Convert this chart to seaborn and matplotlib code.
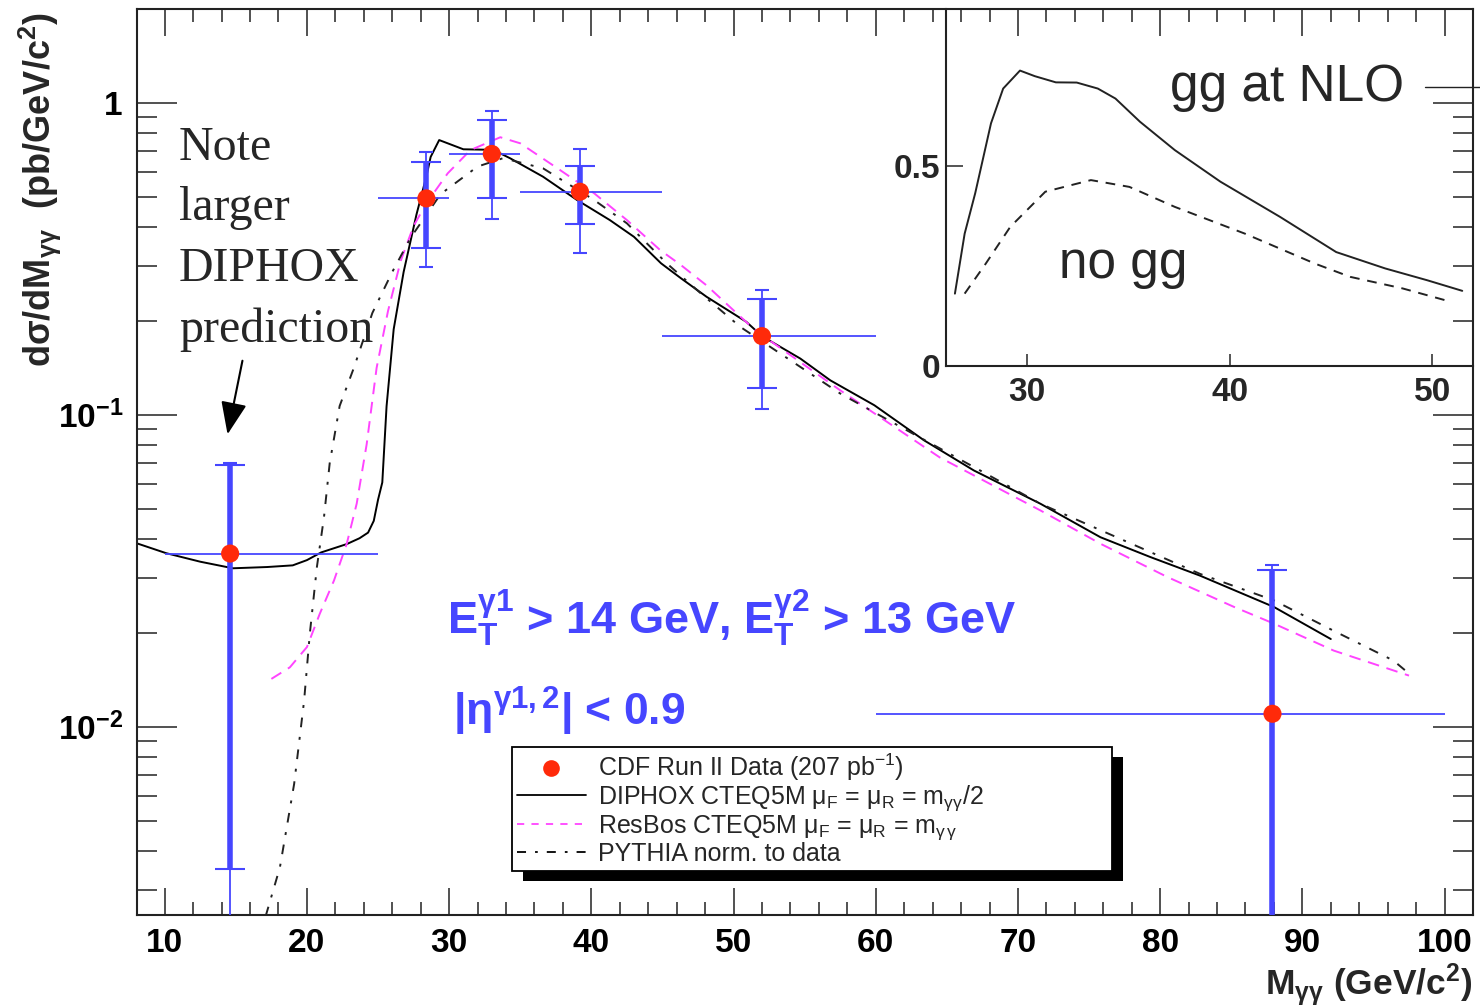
import numpy as np
import pandas as pd
import matplotlib
matplotlib.use("Agg")
import matplotlib.pyplot as plt
import seaborn as sns
from matplotlib.patches import Rectangle
from matplotlib.lines import Line2D
from matplotlib.transforms import IdentityTransform
from matplotlib.ticker import MultipleLocator, LogLocator, NullFormatter, FixedLocator

# ---------------- data ----------------
data_m = [14.6, 28.4, 33.0, 39.2, 52.0, 87.9]
data_val = [0.0359, 0.494, 0.686, 0.519, 0.1787, 0.0110]
bin_lo = [10, 25, 30, 35, 45, 60]
bin_hi = [25, 30, 35, 45, 60, 100]
stat_hi = [0.0689, 0.647, 0.882, 0.629, 0.235, 0.0317]
stat_lo = [0.0035, 0.342, 0.495, 0.409, 0.1216, 0.0010]
tot_hi = [0.0700, 0.696, 0.943, 0.711, 0.251, 0.0331]
tot_lo = [0.0010, 0.298, 0.425, 0.331, 0.104, 0.0010]

diphox_m = [8.05, 10.1, 12.5, 14.8, 17.2, 19.0, 20.0, 21.0, 22.8, 23.7, 24.3, 24.7, 25.0,
            25.3, 25.6, 26.1, 26.8, 27.7, 28.4, 28.7, 29.3, 31.0, 33.1, 34.3, 36.6, 39.0,
            41.3, 43.0, 44.9, 46.3, 48.1, 50.9, 52.0, 54.7, 56.8, 59.9, 63.4, 66.9, 71.6,
            75.8, 79.3, 82.8, 88.0, 92.0]
diphox_v = [0.0387, 0.0360, 0.0338, 0.0322, 0.0325, 0.0329, 0.0342, 0.0362, 0.0385, 0.0402,
            0.0419, 0.0457, 0.0534, 0.0607, 0.1065, 0.188, 0.287, 0.438, 0.581, 0.671, 0.76,
            0.71, 0.707, 0.664, 0.58, 0.488, 0.421, 0.372, 0.306, 0.274, 0.239, 0.1986,
            0.1787, 0.1514, 0.129, 0.1073, 0.0828, 0.0663, 0.0518, 0.0405, 0.035, 0.0305,
            0.0242, 0.0191]

resbos_m = [17.5, 18.8, 20.0, 20.9, 21.9, 22.8, 23.5, 24.2, 24.9, 25.7, 26.6, 27.5, 28.4,
            29.9, 31.5, 33.6, 35.0, 37.8, 40.2, 42.5, 44.85, 46.3, 48.1, 51.5, 57.5, 64.5,
            71.6, 75.8, 80.5, 85.2, 88.0, 92.2, 97.5]
resbos_v = [0.01423, 0.0155, 0.018, 0.023, 0.0294, 0.0386, 0.0519, 0.0804, 0.1414, 0.215,
            0.312, 0.403, 0.4766, 0.5945, 0.706, 0.776, 0.742, 0.609, 0.513, 0.421, 0.337,
            0.302, 0.26, 0.187, 0.1198, 0.073, 0.0493, 0.0386, 0.0302, 0.0242, 0.0214,
            0.01754, 0.01458]

pythia_m = [17.1, 18.1, 19.1, 19.8, 20.2, 20.7, 21.2, 21.6, 22.3, 23.3, 24.6, 26.0, 27.3,
            29.4, 32.0, 33.8, 36.6, 40.2, 42.5, 45.3, 47.7, 50.5, 53.3, 57.5, 62.2, 66.9,
            71.6, 82.8, 88.0, 92.2, 96.4, 97.5]
pythia_v = [0.00247, 0.00354, 0.00655, 0.0121, 0.0198, 0.0325, 0.047, 0.0699, 0.1067,
            0.1414, 0.212, 0.287, 0.37, 0.51, 0.625, 0.665, 0.617, 0.488, 0.411, 0.306,
            0.245, 0.191, 0.157, 0.117, 0.0891, 0.068, 0.0518, 0.0309, 0.0254, 0.0203,
            0.0163, 0.0148]

inset_gg_m = [26.44, 26.92, 27.44, 28.22, 28.82, 29.65, 30.38, 31.42, 32.45, 33.49, 34.36,
              35.57, 37.29, 39.54, 42.48, 45.25, 47.67, 49.74, 51.47]
inset_gg_v = [0.181, 0.331, 0.432, 0.607, 0.694, 0.739, 0.725, 0.7095, 0.709, 0.694, 0.669,
              0.611, 0.540, 0.461, 0.373, 0.285, 0.244, 0.2145, 0.188]
inset_nogg_m = [26.92, 27.96, 29.17, 30.9, 33.15, 35.05, 37.29, 40.75, 44.21, 45.94, 48.53, 50.95]
inset_nogg_v = [0.181, 0.256, 0.348, 0.436, 0.465, 0.448, 0.398, 0.331, 0.256, 0.223, 0.194, 0.160]

x_ticks = [10, 20, 30, 40, 50, 60, 70, 80, 90, 100]
y_ticks = [0.01, 0.1, 1]
y_ticklabels = [r"$\mathbf{10^{-2}}$", r"$\mathbf{10^{-1}}$", r"$\mathbf{1}$"]
inset_x_ticks = [30, 40, 50]
inset_y_ticks = [0, 0.5]
inset_y_ticklabels = ["0", "0.5"]

legend_labels = [r"CDF Run II Data (207 pb$^{-1}$)",
                 r"DIPHOX CTEQ5M $\mu_{F}$ = $\mu_{R}$ = m$_{\gamma\gamma}$/2",
                 r"ResBos CTEQ5M $\mu_{F}$ = $\mu_{R}$ = m$_{\gamma\,\gamma}$",
                 "PYTHIA norm. to data"]

# ---------------- style ----------------
sns.set_style("ticks")
plt.rcParams['font.family'] = ['Liberation Sans', 'DejaVu Sans']
plt.rcParams['mathtext.fontset'] = 'custom'
plt.rcParams['mathtext.rm'] = 'Liberation Sans'
plt.rcParams['mathtext.it'] = 'Liberation Sans:italic'
plt.rcParams['mathtext.bf'] = 'Liberation Sans:bold'
plt.rcParams['mathtext.sf'] = 'Liberation Sans'
plt.rcParams['mathtext.default'] = 'regular'

RED = '#ff2a0a'
BLUE = '#4646ff'
MAGENTA = '#ff44ff'

W, H = 1480, 1008
fig = plt.figure(figsize=(W / 100, H / 100), dpi=100)
ax_l, ax_r, ax_t, ax_b = 137, 1473, 9, 915
ax = fig.add_axes([ax_l / W, 1 - ax_b / H, (ax_r - ax_l) / W, (ax_b - ax_t) / H])
ax.set_facecolor('white')
ax.set_yscale('log')
ax.set_xlim(8.05, 102.0)
ax.set_ylim(0.00249, 2.0)

# theory curves
sns.lineplot(x=diphox_m, y=diphox_v, ax=ax, color='black', lw=1.4, sort=False, estimator=None)
sns.lineplot(x=resbos_m, y=resbos_v, ax=ax, color=MAGENTA, lw=1.4, sort=False, estimator=None)
ax.lines[-1].set_dashes([6, 4])
sns.lineplot(x=pythia_m, y=pythia_v, ax=ax, color='#222222', lw=1.4, sort=False, estimator=None)
ax.lines[-1].set_dashes([5, 5, 1.5, 5])

# data with error bars
m = np.array(data_m); v = np.array(data_val)
ax.errorbar(m, v, xerr=[m - np.array(bin_lo), np.array(bin_hi) - m], fmt='none',
            ecolor=BLUE, elinewidth=1.3, capsize=0, zorder=3)
ax.errorbar(m, v, yerr=[v - np.array(tot_lo), np.array(tot_hi) - v], fmt='none',
            ecolor=BLUE, elinewidth=1.3, capsize=5, capthick=1.5, zorder=3)
ax.errorbar(m, v, yerr=[v - np.array(stat_lo), np.array(stat_hi) - v], fmt='none',
            ecolor=BLUE, elinewidth=4, capsize=10.5, capthick=1.5, zorder=3)
sns.scatterplot(x=data_m, y=data_val, ax=ax, color=RED, s=170, edgecolor='none', zorder=6)

# axes styling
for sp in ax.spines.values():
    sp.set_visible(True)
    sp.set_linewidth(1.5)
    sp.set_color('#222222')
ax.set_xticks(x_ticks)
ax.set_xticklabels([str(t) for t in x_ticks])
ax.xaxis.set_minor_locator(MultipleLocator(2))
ax.yaxis.set_major_locator(FixedLocator(y_ticks))
ax.set_yticklabels(y_ticklabels)
ax.yaxis.set_minor_locator(LogLocator(base=10, subs=np.arange(2, 10)))
ax.yaxis.set_minor_formatter(NullFormatter())
ax.tick_params(axis='x', which='major', direction='in', length=19.5, width=1.1,
               top=True, bottom=True, pad=9, labelsize=24, colors='#222222', labelcolor='black')
ax.tick_params(axis='x', which='minor', direction='in', length=9.5, width=1.1,
               top=True, bottom=True, colors='#222222')
ax.tick_params(axis='y', which='major', direction='in', length=29, width=1.1,
               left=True, right=True, pad=10, labelsize=24, colors='#222222', labelcolor='black')
ax.tick_params(axis='y', which='minor', direction='in', length=14.5, width=1.1,
               left=True, right=True, colors='#222222')
for lab in ax.get_xticklabels():
    lab.set_fontweight('bold')
ax.set_xlabel('')
ax.set_ylabel('')

# axis titles
fig.text(40 / W, 1 - 190 / H, r"d$\sigma$/dM$_{\gamma\gamma}$  (pb/GeV/c$^{2}$)",
         rotation=90, ha='center', va='center', fontsize=26, fontweight='bold')
fig.text(1472 / W, 1 - 995 / H, r"M$_{\gamma\gamma}$ (GeV/c$^{2}$)",
         ha='right', va='baseline', fontsize=25.5, fontweight='bold')

# annotation text and arrow
fig.text(179 / W, 1 - 126 / H, "Note\nlarger\nDIPHOX\nprediction", ha='left', va='top',
         fontsize=34.5, family=['Liberation Serif', 'DejaVu Serif'], linespacing=1.48)
ax.annotate('', xy=(227, H - 437), xycoords='figure pixels',
            xytext=(243, H - 358), textcoords='figure pixels',
            arrowprops=dict(arrowstyle='-|>,head_length=1.0,head_width=0.4',
                            color='black', lw=1.5, mutation_scale=20))

# blue cut texts
fig.text(447 / W, 1 - 634 / H,
         r"E$\mathbf{_{T}^{\gamma 1}}$ > 14 GeV, E$\mathbf{_{T}^{\gamma 2}}$ > 13 GeV",
         ha='left', va='baseline', fontsize=32.5, fontweight='bold', color=BLUE)
fig.text(453 / W, 1 - 726 / H, r"|$\mathbf{\eta^{\gamma 1,2}}$| < 0.9",
         ha='left', va='baseline', fontsize=32, fontweight='bold', color=BLUE)

# legend
handles = [Line2D([], [], marker='o', color=RED, linestyle='none', markersize=12, markeredgewidth=0),
           Line2D([], [], color='black', lw=1.3),
           Line2D([], [], color=MAGENTA, lw=1.3, dashes=[4, 4]),
           Line2D([], [], color='black', lw=1.3, dashes=[5, 5, 1.5, 5])]
leg = ax.legend(handles, legend_labels, loc='upper left',
                bbox_to_anchor=(512 / W, 1 - 868 / H, 600 / W, 121 / H),
                bbox_transform=fig.transFigure, mode='expand', borderaxespad=0,
                fancybox=False, framealpha=1, edgecolor='black', fontsize=18,
                handlelength=2.75, handletextpad=0.5, labelspacing=0.0, borderpad=0.2)
leg.get_frame().set_linewidth(1.3)
leg.set_zorder(10)

# inset
in_l, in_r, in_t, in_b = 946, 1473, 9, 366
axi = fig.add_axes([in_l / W, 1 - in_b / H, (in_r - in_l) / W, (in_b - in_t) / H])
axi.set_facecolor('none')
axi.set_xlim(26.0, 52.0)
axi.set_ylim(0, 0.893)
sns.lineplot(x=inset_gg_m, y=inset_gg_v, ax=axi, color='#222222', lw=1.4, sort=False, estimator=None)
sns.lineplot(x=inset_nogg_m, y=inset_nogg_v, ax=axi, color='#222222', lw=1.4, sort=False, estimator=None)
axi.lines[-1].set_dashes([5, 4])
axi.spines['top'].set_visible(False)
axi.spines['right'].set_visible(False)
for s in ['left', 'bottom']:
    axi.spines[s].set_linewidth(1.5)
    axi.spines[s].set_color('#222222')
axi.set_xticks(inset_x_ticks)
axi.set_xticklabels([str(t) for t in inset_x_ticks])
axi.set_yticks(inset_y_ticks)
axi.set_yticklabels(inset_y_ticklabels)
axi.tick_params(axis='x', direction='in', length=9, width=1.1, pad=8, labelsize=24)
axi.tick_params(axis='y', direction='in', length=12, width=1.1, pad=4, labelsize=24)
for lab in axi.get_xticklabels() + axi.get_yticklabels():
    lab.set_fontweight('bold')
axi.set_xlabel('')
axi.set_ylabel('')
fig.text(1170 / W, 1 - 101 / H, "gg at NLO", ha='left', va='baseline', fontsize=37)
fig.text(1059 / W, 1 - 278 / H, "no gg", ha='left', va='baseline', fontsize=37)
fig.add_artist(Line2D([1425 / W, 1.0], [1 - 87 / H, 1 - 87 / H], color='#222222', lw=1.0))

# legend shadow
fig.canvas.draw()
bb = leg.get_window_extent()
shadow = Rectangle((bb.x0 + 11, bb.y0 - 10), bb.width, bb.height, transform=IdentityTransform(),
                   facecolor='black', edgecolor='none', zorder=9)
ax.add_artist(shadow)

fig.savefig('out.png', dpi=100)
